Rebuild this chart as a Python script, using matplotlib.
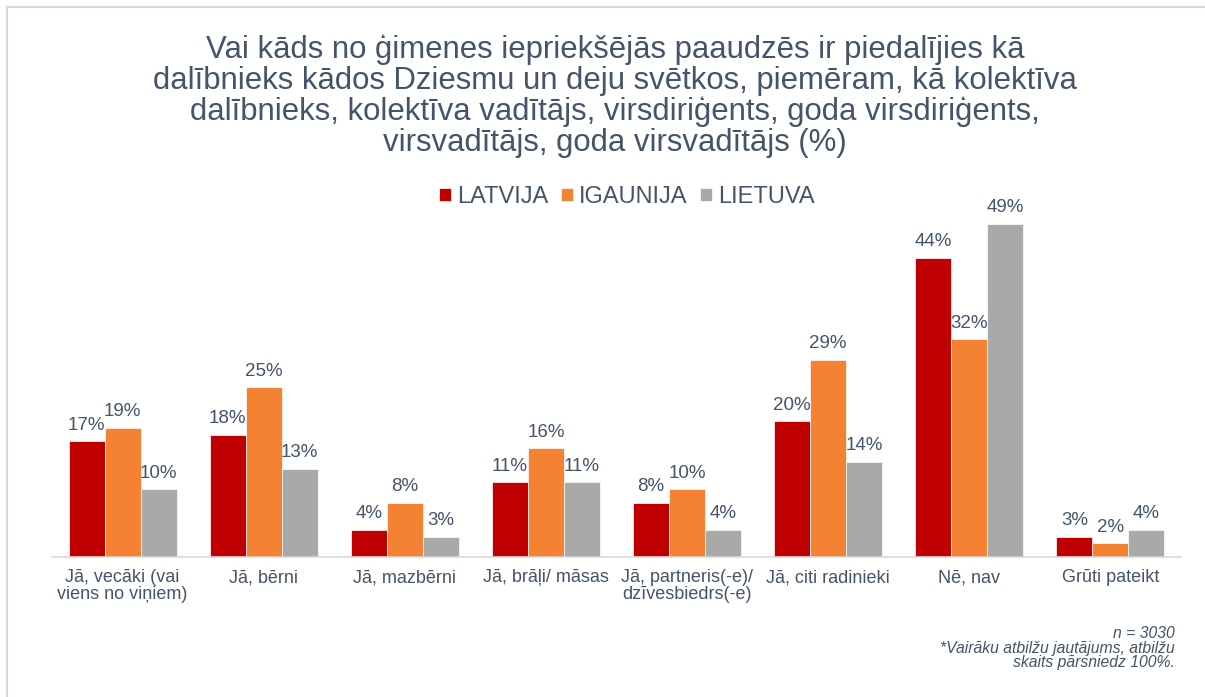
import matplotlib.pyplot as plt
import numpy as np
from matplotlib.lines import Line2D

categories = [
    "Jā, vecāki (vai\nviens no viņiem)",
    "Jā, bērni",
    "Jā, mazbērni",
    "Jā, brāļi/ māsas",
    "Jā, partneris(-e)/\ndzīvesbiedrs(-e)",
    "Jā, citi radinieki",
    "Nē, nav",
    "Grūti pateikt",
]
series_names = ["LATVIJA", "IGAUNIJA", "LIETUVA"]
latvija = [17, 18, 4, 11, 8, 20, 44, 3]
igaunija = [19, 25, 8, 16, 10, 29, 32, 2]
lietuva = [10, 13, 3, 11, 4, 14, 49, 4]

colors = ["#C00000", "#F58233", "#A9A9A9"]
text_color = "#44546A"

plt.rcParams["font.family"] = ["Liberation Sans", "DejaVu Sans"]

fig = plt.figure(figsize=(12.05, 6.97), dpi=100)
ax = fig.add_axes([52 / 1205, 1 - 557 / 697, (1181 - 52) / 1205, (557 - 200) / 697])

x = np.arange(len(categories))
width = 0.255
for i, (vals, name) in enumerate(zip([latvija, igaunija, lietuva], series_names)):
    pos = x + (i - 1) * width
    bars = ax.bar(pos, vals, width, color=colors[i], label=name,
                  edgecolor="white", linewidth=0.5)
    for b, v in zip(bars, vals):
        ax.text(b.get_x() + b.get_width() / 2, v + 1.1, f"{v}%",
                ha="center", va="bottom", fontsize=13.5, color=text_color)

ax.set_xlim(-0.5, len(categories) - 0.5)
ax.set_ylim(0, 52.5)
ax.set_yticks([])
for s in ["top", "right", "left"]:
    ax.spines[s].set_visible(False)
ax.spines["bottom"].set_color("#D9D9D9")
ax.spines["bottom"].set_linewidth(1.2)
ax.set_xticks(x)
ax.set_xticklabels(categories, fontsize=13, color=text_color, linespacing=0.95)
ax.tick_params(axis="x", length=0, pad=9)

fig.text(615 / 1205, 1 - 96 / 697,
         "Vai kāds no ģimenes iepriekšējās paaudzēs ir piedalījies kā\n"
         "dalībnieks kādos Dziesmu un deju svētkos, piemēram, kā kolektīva\n"
         "dalībnieks, kolektīva vadītājs, virsdiriģents, goda virsdiriģents,\n"
         "virsvadītājs, goda virsvadītājs (%)",
         ha="center", va="center", fontsize=22.4, color=text_color,
         linespacing=1.04)

fig.legend(loc="center", bbox_to_anchor=(627 / 1205, 1 - 197 / 697), ncol=3,
           frameon=False, fontsize=17, handlelength=0.5, handleheight=0.5,
           handletextpad=0.25, columnspacing=0.55, labelcolor=text_color)

fig.text(1175 / 1205, 1 - 648 / 697,
         "n = 3030\n*Vairāku atbilžu jautājums, atbilžu\nskaits pārsniedz 100%.",
         ha="right", va="center", fontsize=11.3, style="italic",
         color=text_color, linespacing=1.0)

# frame lines
fig.add_artist(Line2D([7 / 1205, 7 / 1205], [0, 1 - 7 / 697],
                      transform=fig.transFigure, color="#D9D9D9", lw=1.5))
fig.add_artist(Line2D([7 / 1205, 1], [1 - 7 / 697, 1 - 7 / 697],
                      transform=fig.transFigure, color="#D9D9D9", lw=1.5))

fig.savefig("out.png", dpi=100)
